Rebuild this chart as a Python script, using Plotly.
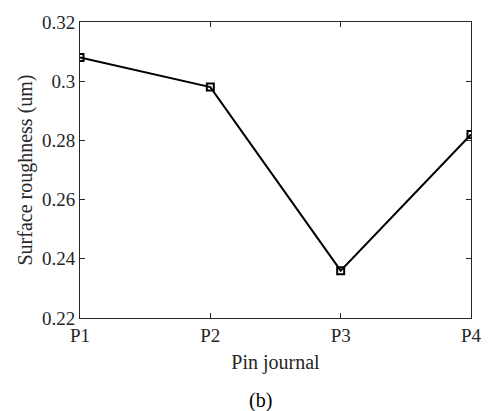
import plotly.graph_objects as go

categories = ["P1", "P2", "P3", "P4"]
positions = [1, 2, 3, 4]
roughness = [0.308, 0.298, 0.236, 0.282]
y_ticks = [0.22, 0.24, 0.26, 0.28, 0.30, 0.32]
y_tick_labels = ["0.22", "0.24", "0.26", "0.28", "0.3", "0.32"]

font_family = "Liberation Serif, Times New Roman, serif"
axis_color = "#262626"

fig = go.Figure()
fig.add_trace(go.Scatter(
    x=positions, y=roughness, mode="lines+markers",
    line=dict(color="black", width=2),
    marker=dict(symbol="square-open", size=7, color="black", line=dict(width=2)),
    showlegend=False,
))

fig.update_layout(
    width=494, height=411,
    margin=dict(l=80, r=16, t=15, b=93),
    paper_bgcolor="white", plot_bgcolor="white",
    font=dict(family=font_family, size=19, color=axis_color),
    xaxis=dict(
        range=[1, 4], tickvals=positions, ticktext=categories,
        ticks="inside", ticklen=5, tickcolor=axis_color, tickwidth=1,
        showline=True, linecolor=axis_color, linewidth=1, mirror="ticks",
        showgrid=False, zeroline=False,
        title=dict(text="Pin journal", font=dict(size=20), standoff=10),
        tickfont=dict(size=19),
    ),
    yaxis=dict(
        range=[0.22, 0.32], tickvals=y_ticks, ticktext=y_tick_labels,
        ticks="inside", ticklen=5, tickcolor=axis_color, tickwidth=1,
        showline=True, linecolor=axis_color, linewidth=1, mirror="ticks",
        showgrid=False, zeroline=False,
        title=dict(text="Surface roughness (um)", font=dict(size=20), standoff=3),
        tickfont=dict(size=19),
    ),
    annotations=[dict(
        text="(b)", xref="paper", yref="paper", x=0.461, y=-0.278,
        xanchor="center", yanchor="middle", showarrow=False,
        font=dict(size=20, family=font_family, color="black"),
    )],
)

fig.write_html("out.html")
